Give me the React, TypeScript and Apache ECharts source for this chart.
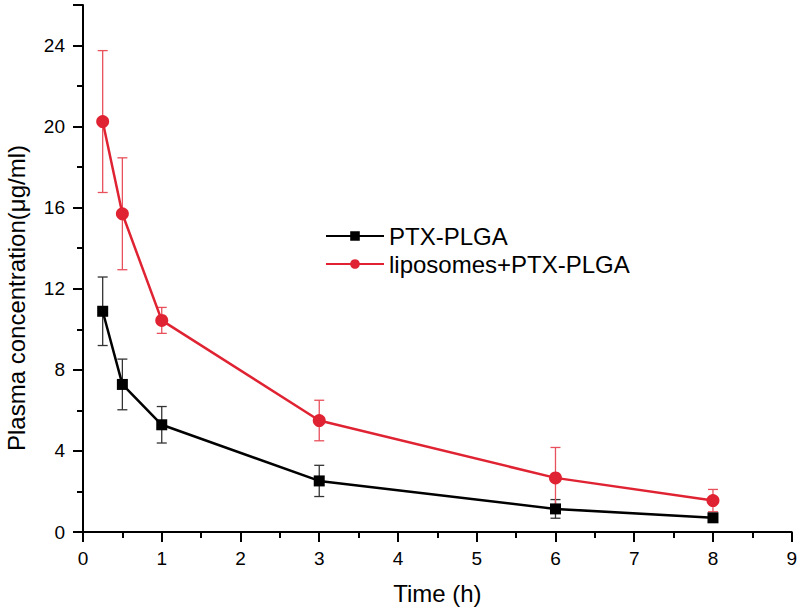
import React, { useEffect, useRef } from "react";
import * as echarts from "echarts";

const times = [0.25, 0.5, 1, 3, 6, 8];
const ptxMean = [10.89, 7.28, 5.29, 2.52, 1.14, 0.7];
const ptxErr = [1.69, 1.25, 0.9, 0.77, 0.46, 0.12];
const lipoMean = [20.25, 15.7, 10.44, 5.5, 2.67, 1.55];
const lipoErr = [3.5, 2.76, 0.64, 1.0, 1.5, 0.55];
const xTicks = [0, 1, 2, 3, 4, 5, 6, 7, 8, 9];
const yTicks = [0, 4, 8, 12, 16, 20, 24];

const RED = "#e02332";
const RED_ERR = "#e8505c";
const BLACK = "#000000";
const FONT = "'Liberation Sans', Arial, sans-serif";

function errData(mean: number[], err: number[]) {
  return times.map((t, i) => [t, mean[i] - err[i], mean[i] + err[i]]);
}

function errRender(color: string) {
  return (params: any, api: any) => {
    const x = api.value(0);
    const lo = api.coord([x, api.value(1)]);
    const hi = api.coord([x, api.value(2)]);
    const w = 5;
    const style = { stroke: color, lineWidth: 1.3 };
    return {
      type: "group",
      children: [
        { type: "line", shape: { x1: lo[0], y1: lo[1], x2: hi[0], y2: hi[1] }, style },
        { type: "line", shape: { x1: hi[0] - w, y1: hi[1], x2: hi[0] + w, y2: hi[1] }, style },
        { type: "line", shape: { x1: lo[0] - w, y1: lo[1], x2: lo[0] + w, y2: lo[1] }, style },
      ],
    };
  };
}

export default function App() {
  const ref = useRef<HTMLDivElement>(null);
  useEffect(() => {
    if (!ref.current) return;
    const chart = echarts.init(ref.current, undefined, { renderer: "svg" });
    const axisCommon = {
      axisLine: { show: true, lineStyle: { color: BLACK, width: 2 } },
      axisTick: { show: true, length: 10, lineStyle: { color: BLACK, width: 2 } },
      minorTick: { show: true, splitNumber: 2, length: 6, lineStyle: { color: BLACK, width: 2 } },
      splitLine: { show: false },
      axisLabel: { color: BLACK, fontSize: 19, fontFamily: FONT },
    };
    chart.setOption({
      animation: false,
      backgroundColor: "#ffffff",
      grid: { left: 83, right: 8, top: 5, bottom: 83 },
      legend: {
        data: ["PTX-PLGA", "liposomes+PTX-PLGA"],
        orient: "vertical",
        left: 320,
        top: 219,
        itemWidth: 58,
        itemHeight: 12,
        itemGap: 4,
        textStyle: { color: BLACK, fontSize: 24, fontFamily: FONT },
      },
      xAxis: {
        type: "value",
        min: xTicks[0],
        max: xTicks[xTicks.length - 1],
        interval: 1,
        name: "Time (h)",
        nameLocation: "middle",
        nameGap: 49,
        nameTextStyle: { color: BLACK, fontSize: 24, fontFamily: FONT },
        ...axisCommon,
        axisLabel: { ...axisCommon.axisLabel, margin: 17 },
      },
      yAxis: {
        type: "value",
        min: yTicks[0],
        max: 26,
        interval: 4,
        ...axisCommon,
        axisLabel: {
          ...axisCommon.axisLabel,
          margin: 18,
          formatter: (v: number) => (yTicks.includes(v) ? String(v) : ""),
        },
      },
      graphic: [
        {
          type: "text",
          x: 16,
          y: 298,
          rotation: Math.PI / 2,
          style: {
            text: "Plasma concentration(\u03bcg/ml)",
            fill: BLACK,
            font: `24px ${FONT}`,
            align: "center",
            verticalAlign: "middle",
          },
        },
      ],
      series: [
        {
          name: "ptxErr",
          type: "custom",
          renderItem: errRender("#333333"),
          data: errData(ptxMean, ptxErr),
          z: 1,
          silent: true,
        },
        {
          name: "lipoErr",
          type: "custom",
          renderItem: errRender(RED_ERR),
          data: errData(lipoMean, lipoErr),
          z: 1,
          silent: true,
        },
        {
          name: "PTX-PLGA",
          type: "line",
          data: times.map((t, i) => [t, ptxMean[i]]),
          symbol: "rect",
          symbolSize: 11,
          itemStyle: { color: BLACK },
          lineStyle: { color: BLACK, width: 2.5 },
          z: 3,
        },
        {
          name: "liposomes+PTX-PLGA",
          type: "line",
          data: times.map((t, i) => [t, lipoMean[i]]),
          symbol: "circle",
          symbolSize: 13,
          itemStyle: { color: RED },
          lineStyle: { color: RED, width: 2.5 },
          z: 3,
        },
      ],
    });
    return () => chart.dispose();
  }, []);
  return (
    <div
      ref={ref}
      style={{ position: "fixed", left: 0, top: 0, width: 800, height: 615, background: "#fff" }}
    />
  );
}
